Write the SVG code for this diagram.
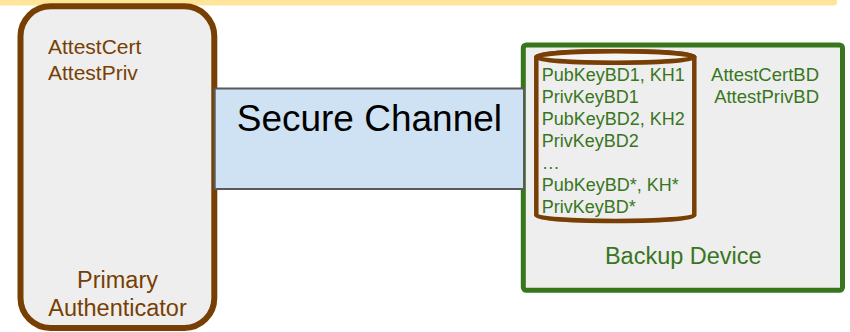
<svg xmlns="http://www.w3.org/2000/svg" width="850" height="332" viewBox="0 0 850 332">
<style>
text{font-family:"Liberation Sans",Arial,sans-serif}
.brown{fill:#783f04}
.green{fill:#38761d}
.box{fill:#eeeeee}
</style>
<rect x="-10" y="-10" width="847" height="15.5" rx="3" fill="#ffe599"/>
<g id="primary">
<rect class="box" x="20.5" y="6.3" width="193.8" height="321.7" rx="30" stroke="#783f04" stroke-width="6"/>
<text class="brown" x="48" y="54" font-size="21">AttestCert</text>
<text class="brown" x="48" y="80" font-size="21">AttestPriv</text>
<text class="brown" x="117.5" y="288" font-size="23.5" text-anchor="middle">Primary</text>
<text class="brown" x="117.5" y="316" font-size="23.5" text-anchor="middle">Authenticator</text>
</g>
<g id="backup">
<rect class="box" x="523.3" y="45" width="319.2" height="245.3" rx="3" stroke="#38761d" stroke-width="5"/>
<g id="store">
<path d="M536.3 57 v158.3 a79 5.7 0 0 0 158 0 v-158.3 a79 5.7 0 0 0 -158 0 z" fill="#eeeeee" stroke="#783f04" stroke-width="4.5"/>
<ellipse cx="615.3" cy="57" rx="79" ry="5.7" fill="#f5f5f5" stroke="#783f04" stroke-width="4.5"/>
<g class="green" font-size="18">
<text x="541.7" y="80.7">PubKeyBD1, KH1</text>
<text x="541.7" y="103.3">PrivKeyBD1</text>
<text x="541.7" y="125.3">PubKeyBD2, KH2</text>
<text x="541.7" y="146.7">PrivKeyBD2</text>
<text x="541.7" y="169.3">…</text>
<text x="541.7" y="191">PubKeyBD*, KH*</text>
<text x="541.7" y="213.3">PrivKeyBD*</text>
</g>
</g>
<text class="green" x="819" y="80.7" font-size="18.5" text-anchor="end">AttestCertBD</text>
<text class="green" x="819" y="102.7" font-size="18.5" text-anchor="end">AttestPrivBD</text>
<text class="green" x="683.3" y="264.3" font-size="23.5" text-anchor="middle">Backup Device</text>
</g>
<g id="connectors">
<g id="secure-channel">
<rect x="214.7" y="88.5" width="309.3" height="100.5" fill="#cfe2f3" stroke="#595959" stroke-width="2"/>
<text x="369.4" y="131" font-size="37" text-anchor="middle" fill="#000000">Secure Channel</text>
</g>
</g>
</svg>
